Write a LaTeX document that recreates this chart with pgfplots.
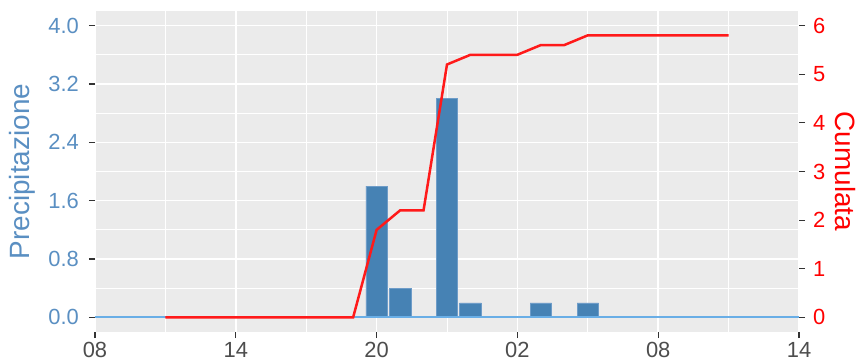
\documentclass[border=0pt]{standalone}
\usepackage{pgfplots}
\pgfplotsset{compat=1.18}
\usepackage{fontspec}
\setmainfont{Liberation Sans}
\definecolor{panel}{HTML}{EBEBEB}
\definecolor{steel}{HTML}{4682B4}
\definecolor{steeltxt}{HTML}{5A8FC2}
\definecolor{steeledge}{HTML}{6E9CC8}
\definecolor{sky}{HTML}{69AEE6}
\definecolor{tickc}{HTML}{333333}
\definecolor{xtxt}{HTML}{4D4D4D}
\definecolor{redl}{HTML}{FF1A1A}
\pgfplotstableread{
h p
12 1.8
13 0.4
15 3.0
16 0.2
19 0.2
21 0.2
}\prec
\pgfplotstableread{
h c
3 0
4 0
5 0
6 0
7 0
8 0
9 0
10 0
11 0
12 1.8
13 2.2
14 2.2
15 5.2
16 5.4
17 5.4
18 5.4
19 5.6
20 5.6
21 5.8
22 5.8
23 5.8
24 5.8
25 5.8
26 5.8
27 5.8
}\cumu
\begin{document}
\begin{tikzpicture}
\pgfplotsset{
  common/.style={
    scale only axis, width=704bp, height=321bp,
    xmin=0, xmax=30,
    tick align=outside,
    major tick length=6bp,
    minor tick length=0pt,
    tick style={draw=tickc, line width=1.2bp},
    axis line style={draw=none},
    /pgf/number format/assume math mode=true,
    ticklabel style={font=\fontsize{22}{26}\selectfont, inner sep=0pt},
    label style={font=\fontsize{28}{32}\selectfont},
  }
}
\begin{axis}[common, name=ax,
  axis background/.style={fill=panel},
  axis x line*=bottom, axis y line*=left,
  ymin=-0.2, ymax=4.2,
  xtick={0,6,...,30},
  xticklabels={08,14,20,02,08,14},
  minor xtick={3,9,...,27},
  ytick={0,0.8,...,4.0},
  minor ytick={0.4,1.2,2.0,2.8,3.6},
  yticklabel style={color=steeltxt, xshift=-10bp, /pgf/number format/.cd, fixed, fixed zerofill, precision=1},
  xticklabel style={color=xtxt, yshift=-4bp},
  ylabel={Precipitazione},
  ylabel style={color=steeltxt, at={(axis description cs:-0.1037,0.5)}, anchor=center},
  grid=both,
  major grid style={white, line width=1.6bp},
  minor grid style={white, line width=0.8bp},
  clip=false,
]
\addplot[ybar, bar width=0.92, fill=steel, draw=steeledge, line width=0.6bp, bar shift=0pt] table[x=h, y=p] {\prec};
\addplot[sky, line width=2bp] coordinates {(0,0) (30,0)};
\end{axis}
\begin{axis}[common,
  axis x line=none, axis y line*=right,
  ymin=-0.3, ymax=6.3,
  ytick={0,1,...,6},
  yticklabel style={color=red, xshift=8bp},
  ylabel={Cumulata},
  ylabel style={color=red, at={(axis description cs:1.0653,0.5)}, anchor=center, rotate=180},
]
\addplot[redl, line width=2.5bp] table[x=h, y=c] {\cumu};
\end{axis}
\pgfresetboundingbox
\path (ax.south west) ++(-95bp,-31bp) rectangle ++(859bp,363bp);
\end{tikzpicture}
\end{document}
